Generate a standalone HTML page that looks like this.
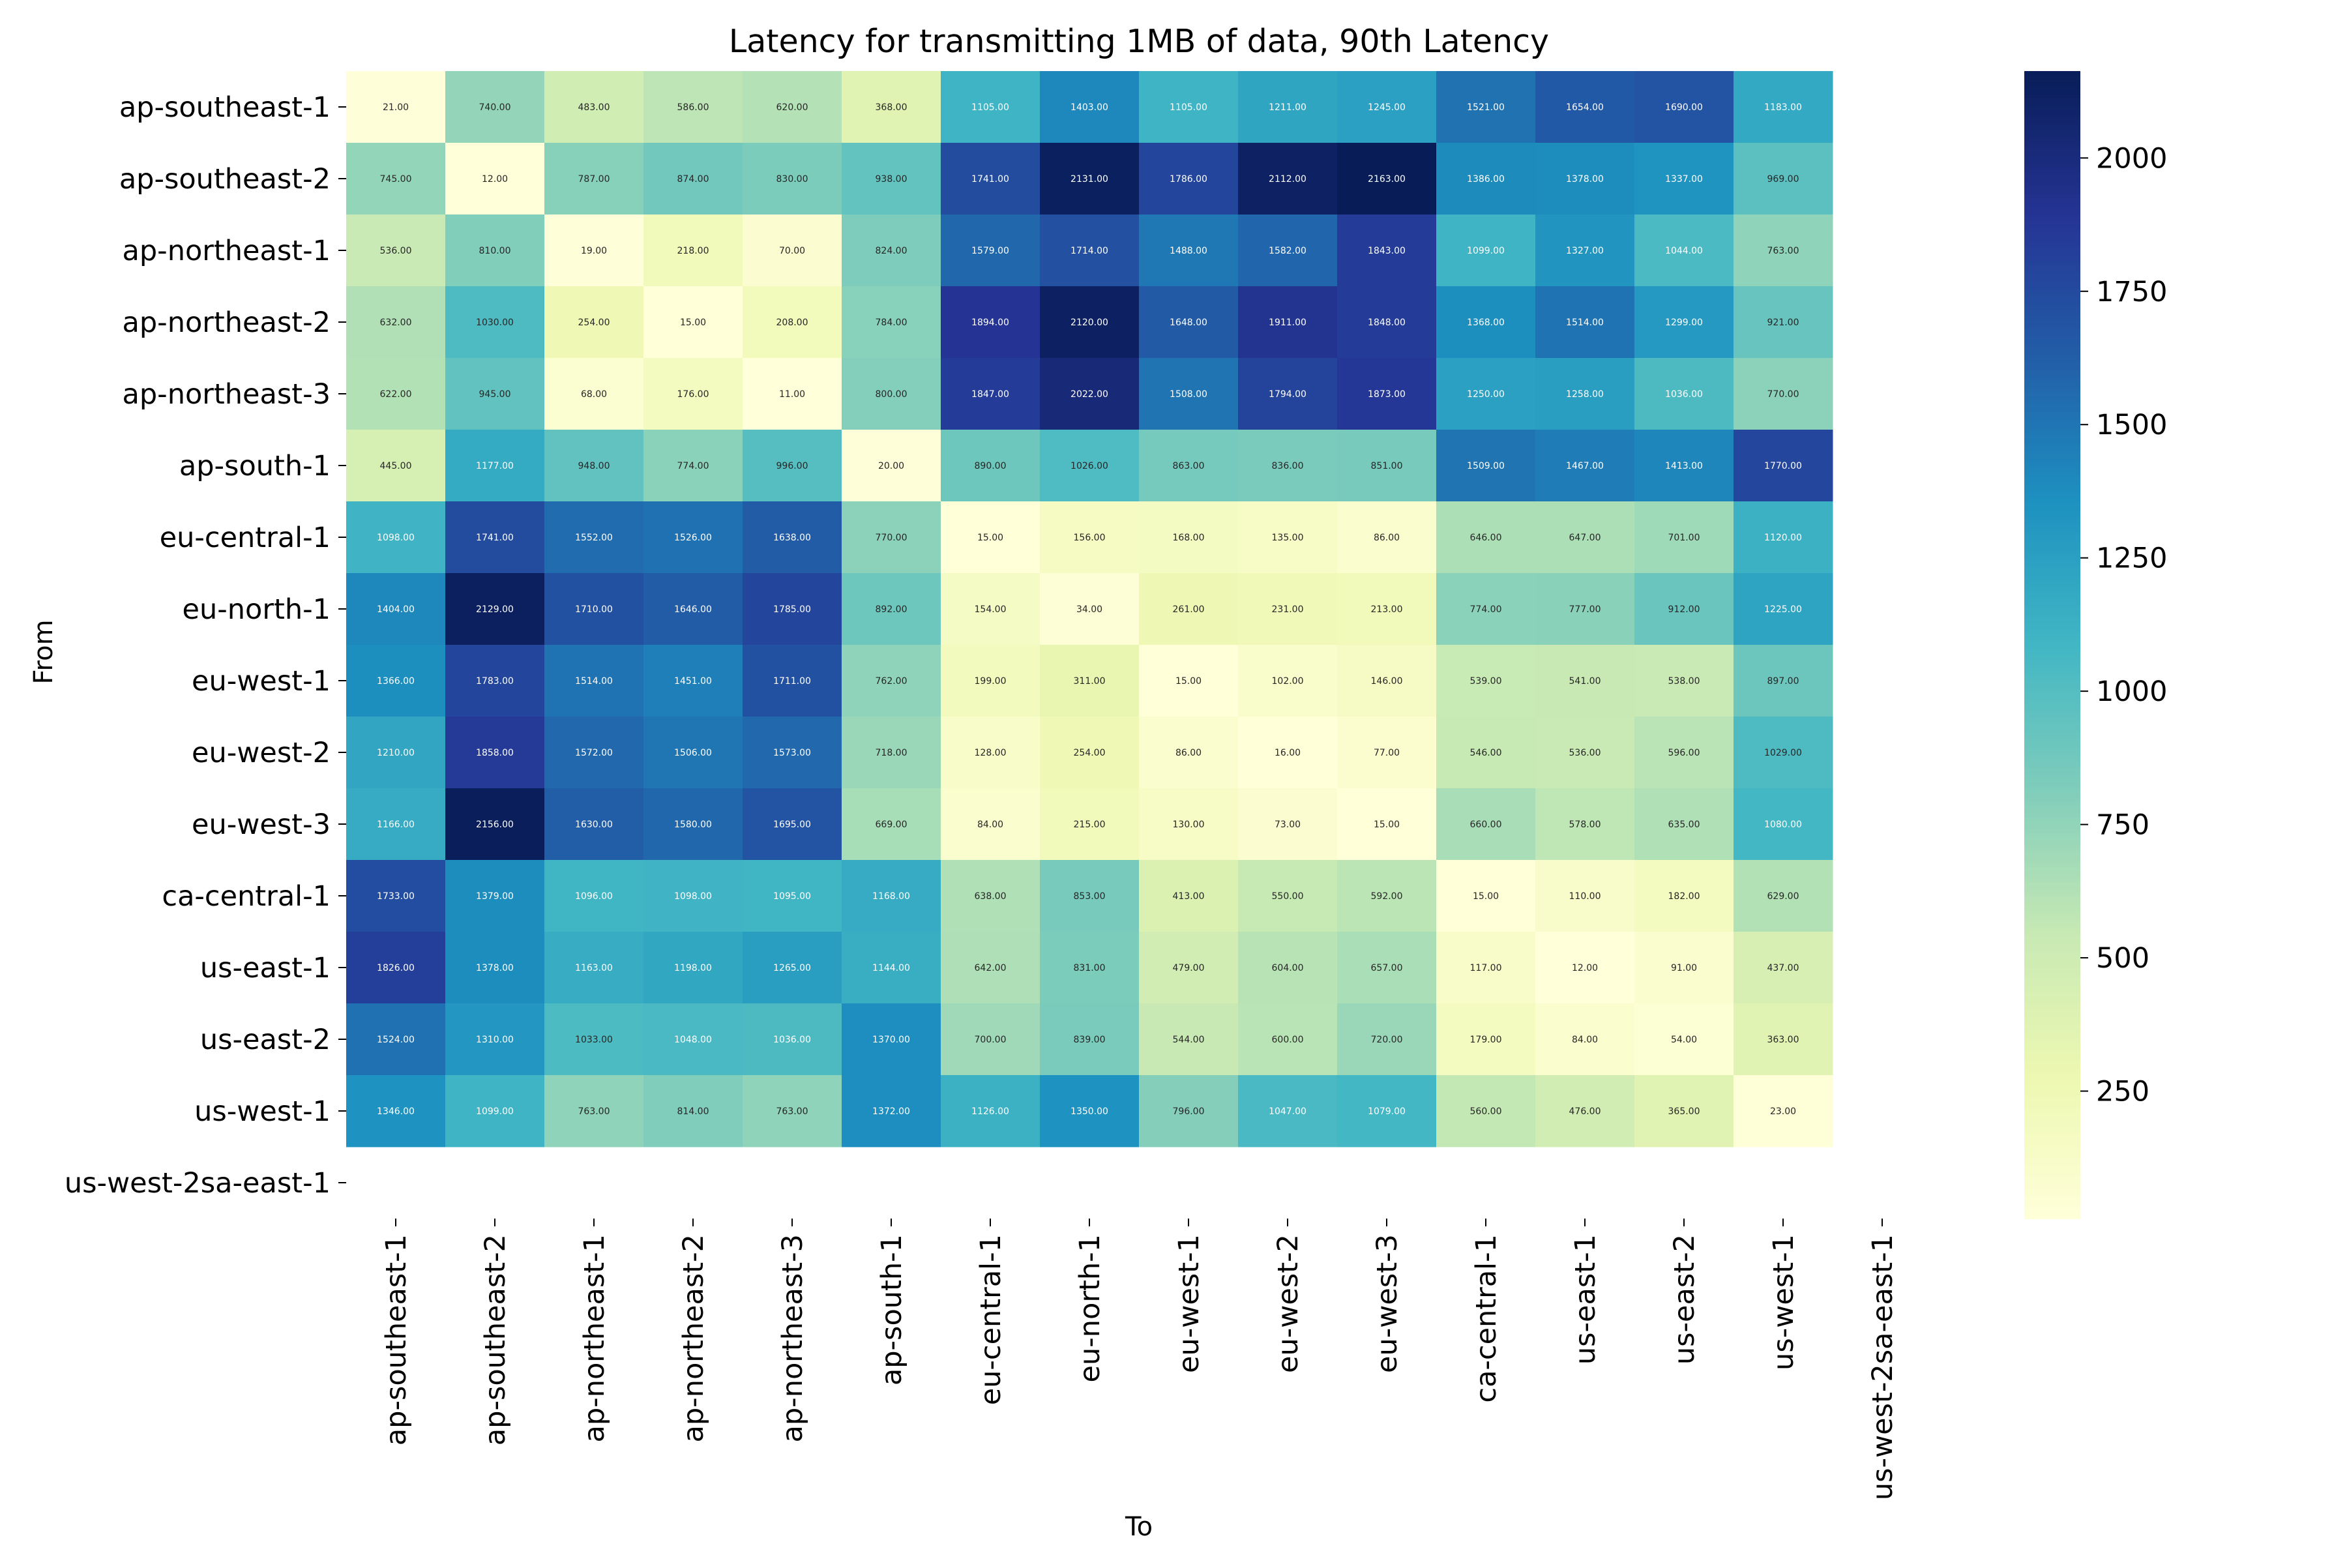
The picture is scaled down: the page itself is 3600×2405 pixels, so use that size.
<!DOCTYPE html>
<html><head><meta charset="utf-8"><style>
html,body{margin:0;padding:0;background:#fff;}
svg text{font-family:"DejaVu Sans","Liberation Sans",sans-serif;}
</style></head><body>
<svg id="chart" xmlns="http://www.w3.org/2000/svg" width="3600" height="2400" viewBox="0 0 3600 2400">
<rect width="3600" height="2400" fill="#fff"/>
<text x="1747" y="80" font-size="49" text-anchor="middle">Latency for transmitting 1MB of data, 90th Latency</text>
<text transform="translate(80,1000) rotate(-90)" font-size="40" text-anchor="middle">From</text>
<text x="1747" y="2355" font-size="40" text-anchor="middle">To</text>
<g id="cells"></g><g id="xt"></g><g id="yt"></g><g id="cbar"></g>
</svg>
<script>
const rowLabels=["ap-southeast-1","ap-southeast-2","ap-northeast-1","ap-northeast-2","ap-northeast-3","ap-south-1","eu-central-1","eu-north-1","eu-west-1","eu-west-2","eu-west-3","ca-central-1","us-east-1","us-east-2","us-west-1","us-west-2sa-east-1"];
const colLabels=["ap-southeast-1","ap-southeast-2","ap-northeast-1","ap-northeast-2","ap-northeast-3","ap-south-1","eu-central-1","eu-north-1","eu-west-1","eu-west-2","eu-west-3","ca-central-1","us-east-1","us-east-2","us-west-1","us-west-2sa-east-1"];
const values=[
[21,740,483,586,620,368,1105,1403,1105,1211,1245,1521,1654,1690,1183],
[745,12,787,874,830,938,1741,2131,1786,2112,2163,1386,1378,1337,969],
[536,810,19,218,70,824,1579,1714,1488,1582,1843,1099,1327,1044,763],
[632,1030,254,15,208,784,1894,2120,1648,1911,1848,1368,1514,1299,921],
[622,945,68,176,11,800,1847,2022,1508,1794,1873,1250,1258,1036,770],
[445,1177,948,774,996,20,890,1026,863,836,851,1509,1467,1413,1770],
[1098,1741,1552,1526,1638,770,15,156,168,135,86,646,647,701,1120],
[1404,2129,1710,1646,1785,892,154,34,261,231,213,774,777,912,1225],
[1366,1783,1514,1451,1711,762,199,311,15,102,146,539,541,538,897],
[1210,1858,1572,1506,1573,718,128,254,86,16,77,546,536,596,1029],
[1166,2156,1630,1580,1695,669,84,215,130,73,15,660,578,635,1080],
[1733,1379,1096,1098,1095,1168,638,853,413,550,592,15,110,182,629],
[1826,1378,1163,1198,1265,1144,642,831,479,604,657,117,12,91,437],
[1524,1310,1033,1048,1036,1370,700,839,544,600,720,179,84,54,363],
[1346,1099,763,814,763,1372,1126,1350,796,1047,1079,560,476,365,23]
];
const cbTicks=[250,500,750,1000,1250,1500,1750,2000];
const vmin=11, vmax=2163;
const L=531,T=109,CW=152,RH=110,NR=16,NC=16;
const B=T+NR*RH;
const CBX=3105,CBW=86;
const xPos=i=>L+i*CW, yPos=j=>T+j*RH;
const cbY=v=>B-(v-vmin)/(vmax-vmin)*(B-T);
const stops=["#ffffd9","#edf8b1","#c7e9b4","#7fcdbb","#41b6c4","#1d91c0","#225ea8","#253494","#081d58"].map(h=>[1,3,5].map(k=>parseInt(h.substr(k,2),16)));
function cmap(t){t=Math.max(0,Math.min(1,t));const p=t*8,i=Math.min(7,Math.floor(p)),f=p-i;return stops[i].map((c,k)=>c+(stops[i+1][k]-c)*f);}
function lum(c){const r=c.map(x=>{x/=255;return x<=0.03928?x/12.92:Math.pow((x+0.055)/1.055,2.4)});return 0.2126*r[0]+0.7152*r[1]+0.0722*r[2];}
const NS="http://www.w3.org/2000/svg";
function mk(tag,attrs,parent){const e=document.createElementNS(NS,tag);for(const k in attrs)e.setAttribute(k,attrs[k]);parent.appendChild(e);return e;}
const cells=document.getElementById('cells');
values.forEach((row,j)=>row.forEach((v,i)=>{
 const c=cmap((v-vmin)/(vmax-vmin));
 const r=mk('rect',{x:xPos(i),y:yPos(j),width:CW+0.5,height:RH+0.5,fill:`rgb(${c.map(Math.round).join(',')})`},cells);
 
 
 const t=mk('text',{x:xPos(i)+CW/2,y:yPos(j)+RH/2+5,'font-size':14,'text-anchor':'middle',fill:lum(c)>0.408?'#262626':'#ffffff'},cells);
 
 
 t.textContent=v.toFixed(2);
}));
const xt=document.getElementById('xt');
colLabels.forEach((lab,i)=>{
 const x=xPos(i)+CW/2;
 mk('line',{x1:x,y1:B,x2:x,y2:B+12,stroke:'#000','stroke-width':2},xt);
 const t=mk('text',{transform:`translate(${x+15},${B+24}) rotate(-90)`,'font-size':43,'text-anchor':'end'},xt);
 
 
 t.textContent=lab;
});
const yt=document.getElementById('yt');
rowLabels.forEach((lab,j)=>{
 const y=yPos(j)+RH/2;
 mk('line',{x1:L-12,y1:y,x2:L,y2:y,stroke:'#000','stroke-width':2},yt);
 const t=mk('text',{x:L-24,y:y+15,'font-size':43,'text-anchor':'end'},yt);
 
 
 t.textContent=lab;
});
const cb=document.getElementById('cbar');
for(let k=0;k<300;k++){
 const v0=vmin+(vmax-vmin)*k/300, v1=vmin+(vmax-vmin)*(k+1)/300;
 const c=cmap(((v0+v1)/2-vmin)/(vmax-vmin));
 const r=mk('rect',{x:CBX,y:cbY(v1),width:CBW,height:cbY(v0)-cbY(v1)+0.8,fill:`rgb(${c.map(Math.round).join(',')})`},cb);
 
 
}
cbTicks.forEach(v=>{
 const y=cbY(v);
 mk('line',{x1:CBX+CBW,y1:y,x2:CBX+CBW+12,y2:y,stroke:'#000','stroke-width':2},cb);
 const t=mk('text',{x:CBX+CBW+24,y:y+15,'font-size':43},cb);
 
 
 t.textContent=v;
});
</script>
</body></html>
